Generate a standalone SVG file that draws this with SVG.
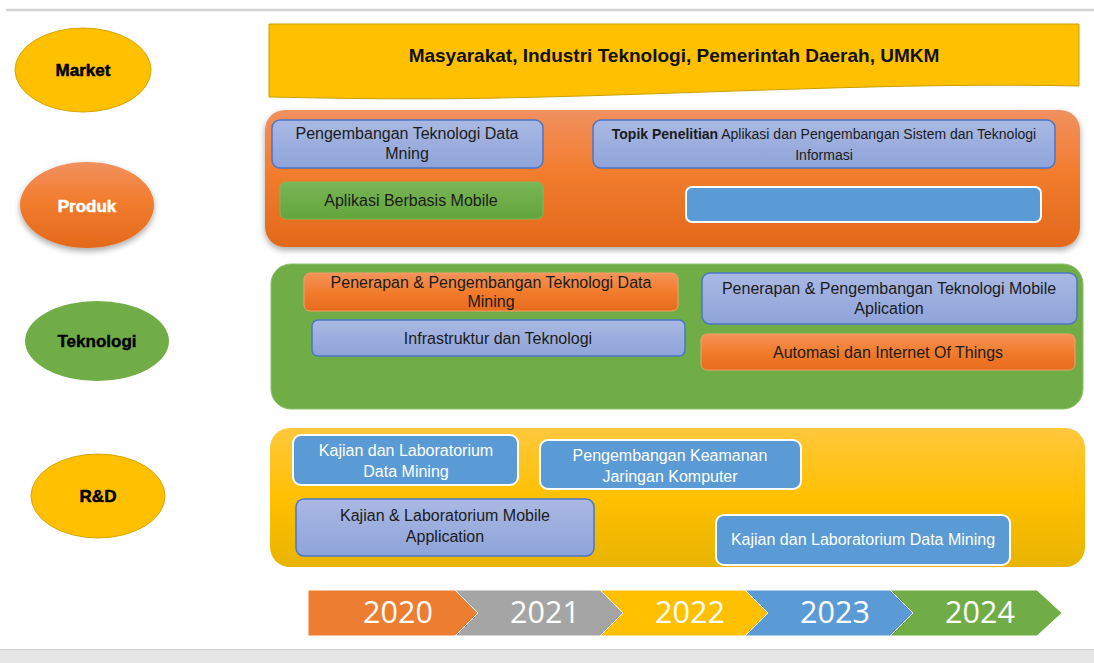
<svg xmlns="http://www.w3.org/2000/svg" width="1094" height="663" viewBox="0 0 1094 663">
<defs>
<linearGradient id="gOrangeBig" x1="0" y1="0" x2="0" y2="1"><stop offset="0" stop-color="#F19060"/><stop offset="0.45" stop-color="#F27D2E"/><stop offset="1" stop-color="#E2691B"/></linearGradient>
<linearGradient id="gOrange" x1="0" y1="0" x2="0" y2="1"><stop offset="0" stop-color="#F4935A"/><stop offset="0.5" stop-color="#F27C2C"/><stop offset="1" stop-color="#E66C1C"/></linearGradient>
<linearGradient id="gLav" x1="0" y1="0" x2="0" y2="1"><stop offset="0" stop-color="#AAB9E3"/><stop offset="1" stop-color="#8EA3D9"/></linearGradient>
<linearGradient id="gGreen" x1="0" y1="0" x2="0" y2="1"><stop offset="0" stop-color="#79B657"/><stop offset="1" stop-color="#63A43A"/></linearGradient>
<linearGradient id="gYellow" x1="0" y1="0" x2="0" y2="1"><stop offset="0" stop-color="#FFC83D"/><stop offset="0.5" stop-color="#FFC000"/><stop offset="1" stop-color="#E8B400"/></linearGradient>
<filter id="sh" x="-5%" y="-10%" width="110%" height="125%"><feDropShadow dx="0" dy="3" stdDeviation="3" flood-color="#000" flood-opacity="0.35"/></filter>
</defs>
<style>
.t{font-family:"Liberation Sans",Arial,sans-serif;font-size:16px;fill:#1b1b1b;text-anchor:middle}
.w{fill:#fff}
.lav{fill:url(#gLav);stroke:#4A76C8;stroke-width:1.5}
.blu{fill:#5B9BD5;stroke:#fff;stroke-width:2}
.org{fill:url(#gOrange);stroke:#F5A06A;stroke-width:1}
.el{font-family:"Liberation Sans",Arial,sans-serif;font-weight:bold;font-size:17px;text-anchor:middle;stroke-width:0.5}
.yr{font-family:"Open Sans","Liberation Sans",sans-serif;font-size:30.5px;fill:#fff;text-anchor:middle}
.chev{stroke:#fff;stroke-width:1}
</style>
<rect x="0" y="0" width="1094" height="663" fill="#fff"/>
<line x1="6" y1="10" x2="1094" y2="10" stroke="#D4D4D4" stroke-width="2.5"/>
<rect x="0" y="649" width="1094" height="14" fill="#E6E6E6"/>
<line x1="0" y1="649.5" x2="1094" y2="649.5" stroke="#D2D2D2" stroke-width="1"/>

<g id="market">
<ellipse cx="83" cy="70" rx="68" ry="42" fill="#FFC000" stroke="#D9A400" stroke-width="1"/>
<text class="el" x="83" y="76" fill="#000" stroke="#000">Market</text>
</g>
<g id="market-banner">
<path d="M269,24 L1079,24 L1079,86 C900,82 700,94 500,98 C400,100 320,98 269,97 Z" fill="#FFC000" stroke="#C9A000" stroke-width="1"/>
<text class="t" x="674" y="62" style="font-size:19px;font-weight:bold;fill:#111">Masyarakat, Industri Teknologi, Pemerintah Daerah, UMKM</text>
</g>

<g id="produk">
<ellipse cx="87" cy="205" rx="67" ry="43" fill="url(#gOrangeBig)" filter="url(#sh)"/>
<text class="el" x="87" y="212" fill="#fff" stroke="#fff">Produk</text>
</g>
<g id="produk-box">
<rect x="265" y="110" width="815" height="137" rx="20" fill="url(#gOrangeBig)" filter="url(#sh)"/>
</g>
<g id="p1"><rect class="lav" x="272" y="120" width="271" height="48" rx="8"/>
<text class="t" x="407" y="139">Pengembangan Teknologi Data</text><text class="t" x="407" y="159">Mning</text></g>
<g id="p2"><rect class="lav" x="593" y="120" width="462" height="48" rx="8"/>
<text class="t" x="824" y="139" style="font-size:14px"><tspan font-weight="bold">Topik Penelitian</tspan> Aplikasi dan Pengembangan Sistem dan Teknologi</text><text class="t" x="824" y="160" style="font-size:14px">Informasi</text></g>
<g id="p3"><rect x="280" y="182" width="263" height="37" rx="6" fill="url(#gGreen)" stroke="#7DBB5D" stroke-width="1"/>
<text class="t" x="411" y="206">Aplikasi Berbasis Mobile</text></g>
<g id="p4"><rect class="blu" x="686" y="187" width="355" height="35" rx="6"/></g>

<g id="teknologi">
<ellipse cx="97" cy="341" rx="72" ry="40" fill="#70AD47"/>
<text class="el" x="97" y="347" fill="#000" stroke="#000" style="stroke-width:0.4">Teknologi</text>
</g>
<g id="teknologi-box"><rect x="271" y="264" width="812" height="145" rx="20" fill="#70AD47" stroke="#8CC06A" stroke-width="1"/></g>
<g id="t1"><rect class="org" x="304" y="273" width="374" height="38" rx="6"/>
<text class="t" x="491" y="288">Penerapan &amp; Pengembangan Teknologi Data</text><text class="t" x="491" y="307">Mining</text></g>
<g id="t2"><rect class="lav" x="312" y="320" width="373" height="36" rx="6"/>
<text class="t" x="498" y="344">Infrastruktur dan Teknologi</text></g>
<g id="t3"><rect class="lav" x="702" y="273" width="375" height="51" rx="8"/>
<text class="t" x="889" y="294">Penerapan &amp; Pengembangan Teknologi Mobile</text><text class="t" x="889" y="314">Aplication</text></g>
<g id="t4"><rect class="org" x="701" y="334" width="374" height="36" rx="6"/>
<text class="t" x="888" y="358">Automasi dan Internet Of Things</text></g>

<g id="rnd">
<ellipse cx="98" cy="496" rx="67" ry="42" fill="#FFC000" stroke="#D9A400" stroke-width="1"/>
<text class="el" x="98" y="502" fill="#000" stroke="#000">R&amp;D</text>
</g>
<g id="rnd-box"><rect x="270" y="428" width="815" height="139" rx="20" fill="url(#gYellow)"/></g>
<g id="r1"><rect class="blu" x="293" y="435" width="225" height="50" rx="8"/>
<text class="t w" x="406" y="456">Kajian dan Laboratorium</text><text class="t w" x="406" y="477">Data Mining</text></g>
<g id="r2"><rect class="blu" x="540" y="440" width="261" height="49" rx="8"/>
<text class="t w" x="670" y="461">Pengembangan Keamanan</text><text class="t w" x="670" y="482">Jaringan Komputer</text></g>
<g id="r3"><rect class="lav" x="296" y="499" width="298" height="57" rx="8"/>
<text class="t" x="445" y="521">Kajian &amp; Laboratorium Mobile</text><text class="t" x="445" y="542">Application</text></g>
<g id="r4"><rect class="blu" x="716" y="515" width="294" height="50" rx="8"/>
<text class="t w" x="863" y="545">Kajian dan Laboratorium Data Mining</text></g>

<g id="timeline">
<path class="chev" d="M308,590 L455,590 L478,613 L455,636 L308,636 Z" fill="#ED7D31"/>
<path class="chev" d="M455,590 L600,590 L623,613 L600,636 L455,636 L478,613 Z" fill="#A5A5A5"/>
<path class="chev" d="M600,590 L745,590 L768,613 L745,636 L600,636 L623,613 Z" fill="#FFC000"/>
<path class="chev" d="M745,590 L890,590 L913,613 L890,636 L745,636 L768,613 Z" fill="#5B9BD5"/>
<path class="chev" d="M890,590 L1037,590 L1062,613 L1037,636 L890,636 L913,613 Z" fill="#70AD47"/>
<text class="yr" x="398" y="623">2020</text>
<text class="yr" x="545" y="623">2021</text>
<text class="yr" x="690" y="623">2022</text>
<text class="yr" x="835" y="623">2023</text>
<text class="yr" x="980" y="623">2024</text>
</g>
</svg>
